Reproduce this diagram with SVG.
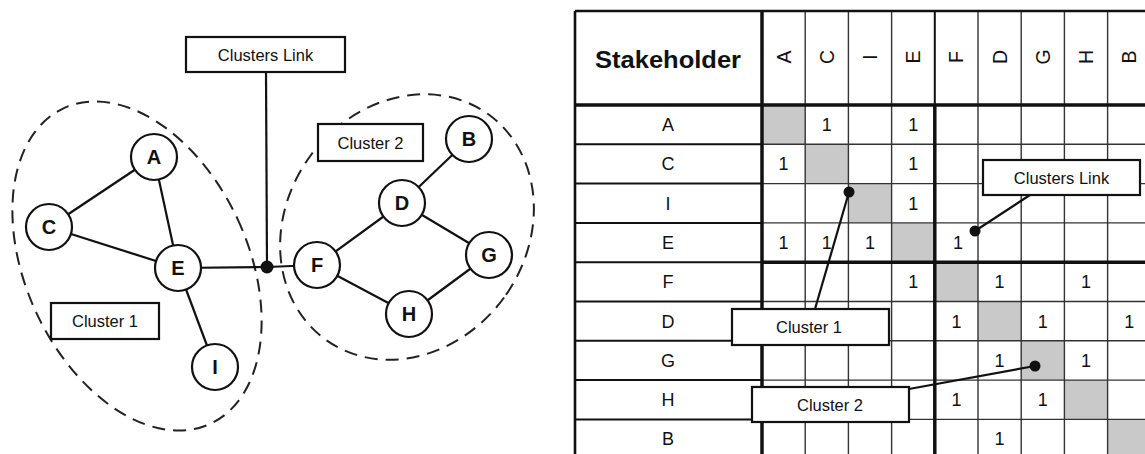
<svg xmlns="http://www.w3.org/2000/svg" width="1145" height="454" viewBox="0 0 1145 454">
  <style>
    .edge { stroke: #111; stroke-width: 2.2; fill: none; }
    .node circle { fill: #fff; stroke: #111; stroke-width: 2.2; }
    .node text { font-family: "Liberation Sans", Arial, sans-serif; font-weight: bold; font-size: 20px; fill: #111; text-anchor: middle; }
    .hull { fill: none; stroke: #222; stroke-width: 2; stroke-dasharray: 13 8; }
    .box rect { fill: #fff; stroke: #111; stroke-width: 2.2; }
    .box text { font-family: "Liberation Sans", Arial, sans-serif; font-size: 16.5px; fill: #111; text-anchor: middle; }
    .dot { fill: #111; }
    .cell { font-family: "Liberation Sans", Arial, sans-serif; font-size: 18px; fill: #111; text-anchor: middle; }
    .colhead { font-family: "Liberation Sans", Arial, sans-serif; font-size: 19.5px; fill: #111; text-anchor: middle; }
    .diag { fill: #c9c9c9; }
    .grid { stroke: #333; stroke-width: 1.4; }
    .rowline { stroke: #111; stroke-width: 2; }
    .thick { stroke: #111; stroke-width: 3.5; }
  </style>

  <!-- ===================== Network graph ===================== -->
  <g id="cluster-hulls">
    <ellipse class="hull" cx="137" cy="266" rx="111" ry="174" transform="rotate(-25 137 266)"/>
    <ellipse class="hull" cx="407" cy="227" rx="120" ry="139" transform="rotate(36 407 227)"/>
  </g>

  <g id="connectors">
    <line class="edge" x1="49" y1="227" x2="154" y2="157"/>
    <line class="edge" x1="154" y1="157" x2="178" y2="268"/>
    <line class="edge" x1="49" y1="227" x2="178" y2="268"/>
    <line class="edge" x1="178" y1="268" x2="215" y2="367"/>
    <line class="edge" x1="178" y1="268" x2="267" y2="267"/>
    <line class="edge" x1="267" y1="267" x2="317" y2="265"/>
    <line class="edge" x1="317" y1="265" x2="402" y2="203"/>
    <line class="edge" x1="317" y1="265" x2="409" y2="314"/>
    <line class="edge" x1="402" y1="203" x2="469" y2="139"/>
    <line class="edge" x1="402" y1="203" x2="489" y2="255"/>
    <line class="edge" x1="409" y1="314" x2="489" y2="255"/>
    <line class="edge" x1="266" y1="72" x2="267" y2="267"/>
    <circle class="dot" cx="267" cy="267" r="6.5"/>
  </g>

  <g id="node-A" class="node"><circle cx="154" cy="157" r="23"/><text x="154" y="164">A</text></g>
  <g id="node-C" class="node"><circle cx="49" cy="227" r="23"/><text x="49" y="234">C</text></g>
  <g id="node-E" class="node"><circle cx="178" cy="268" r="23"/><text x="178" y="275">E</text></g>
  <g id="node-I" class="node"><circle cx="215" cy="367" r="23"/><text x="215" y="374">I</text></g>
  <g id="node-F" class="node"><circle cx="317" cy="265" r="23"/><text x="317" y="272">F</text></g>
  <g id="node-D" class="node"><circle cx="402" cy="203" r="23"/><text x="402" y="210">D</text></g>
  <g id="node-B" class="node"><circle cx="469" cy="139" r="23"/><text x="469" y="146">B</text></g>
  <g id="node-G" class="node"><circle cx="489" cy="255" r="23"/><text x="489" y="262">G</text></g>
  <g id="node-H" class="node"><circle cx="409" cy="314" r="23"/><text x="409" y="321">H</text></g>

  <g id="label-clusters-link" class="box"><rect x="186" y="37" width="159" height="35"/><text x="265.5" y="60.5">Clusters Link</text></g>
  <g id="label-cluster-1" class="box"><rect x="51" y="303" width="108" height="36"/><text x="105" y="327">Cluster 1</text></g>
  <g id="label-cluster-2" class="box"><rect x="318" y="124" width="105" height="37"/><text x="370.5" y="148.5">Cluster 2</text></g>

  <!-- ===================== Adjacency matrix ===================== -->
  <g id="matrix">
    <!-- diagonal cells -->
    <rect class="diag" x="762" y="105" width="43.2" height="39.3"/>
    <rect class="diag" x="805.2" y="144.3" width="43.2" height="39.3"/>
    <rect class="diag" x="848.4" y="183.6" width="43.2" height="39.3"/>
    <rect class="diag" x="891.6" y="222.9" width="43.2" height="39.3"/>
    <rect class="diag" x="934.8" y="262.2" width="43.2" height="39.3"/>
    <rect class="diag" x="978" y="301.5" width="43.2" height="39.3"/>
    <rect class="diag" x="1021.2" y="340.8" width="43.2" height="39.3"/>
    <rect class="diag" x="1064.4" y="380.1" width="43.2" height="39.3"/>
    <rect class="diag" x="1107.6" y="419.4" width="43.2" height="39.3"/>

    <!-- thin grid inside matrix -->
    <g class="grid">
      <line x1="805.2" y1="11" x2="805.2" y2="454"/>
      <line x1="848.4" y1="11" x2="848.4" y2="454"/>
      <line x1="891.6" y1="11" x2="891.6" y2="454"/>
      <line x1="978" y1="11" x2="978" y2="454"/>
      <line x1="1021.2" y1="11" x2="1021.2" y2="454"/>
      <line x1="1064.4" y1="11" x2="1064.4" y2="454"/>
      <line x1="1107.6" y1="11" x2="1107.6" y2="454"/>
      <line x1="762" y1="144.3" x2="1145" y2="144.3"/>
      <line x1="762" y1="183.6" x2="1145" y2="183.6"/>
      <line x1="762" y1="222.9" x2="1145" y2="222.9"/>
      <line x1="762" y1="301.5" x2="1145" y2="301.5"/>
      <line x1="762" y1="340.8" x2="1145" y2="340.8"/>
      <line x1="762" y1="380.1" x2="1145" y2="380.1"/>
      <line x1="762" y1="419.4" x2="1145" y2="419.4"/>
    </g>
    <!-- header column separator and label-column row lines -->
    <g class="rowline">
      <line x1="934.8" y1="11" x2="934.8" y2="105"/>
      <line x1="575" y1="144.3" x2="762" y2="144.3"/>
      <line x1="575" y1="183.6" x2="762" y2="183.6"/>
      <line x1="575" y1="222.9" x2="762" y2="222.9"/>
      <line x1="575" y1="262.2" x2="762" y2="262.2"/>
      <line x1="575" y1="301.5" x2="762" y2="301.5"/>
      <line x1="575" y1="340.8" x2="762" y2="340.8"/>
      <line x1="575" y1="380.1" x2="762" y2="380.1"/>
      <line x1="575" y1="419.4" x2="762" y2="419.4"/>
    </g>
    <!-- outer frame and cluster borders -->
    <g class="thick">
      <line x1="575" y1="11" x2="1145" y2="11" stroke-width="2.6"/>
      <line x1="575" y1="11" x2="575" y2="454" stroke-width="2.6"/>
      <line x1="762" y1="11" x2="762" y2="454"/>
      <line x1="575" y1="105" x2="1145" y2="105"/>
      <line x1="762" y1="262.2" x2="1145" y2="262.2"/>
      <line x1="934.8" y1="105" x2="934.8" y2="454"/>
    </g>

    <!-- header -->
    <text x="668" y="68" font-family="Liberation Sans, Arial, sans-serif" font-weight="bold" font-size="23" text-anchor="middle" textLength="146" lengthAdjust="spacingAndGlyphs" fill="#111">Stakeholder</text>
    <g class="colhead">
      <text transform="translate(783.6 57) rotate(-90)" y="7">A</text>
      <text transform="translate(826.8 57) rotate(-90)" y="7">C</text>
      <text transform="translate(870 57) rotate(-90)" y="7">I</text>
      <text transform="translate(913.2 57) rotate(-90)" y="7">E</text>
      <text transform="translate(956.4 57) rotate(-90)" y="7">F</text>
      <text transform="translate(999.6 57) rotate(-90)" y="7">D</text>
      <text transform="translate(1042.8 57) rotate(-90)" y="7">G</text>
      <text transform="translate(1086 57) rotate(-90)" y="7">H</text>
      <text transform="translate(1129.2 57) rotate(-90)" y="7">B</text>
    </g>

    <!-- row labels -->
    <g class="cell">
      <text x="668" y="131">A</text>
      <text x="668" y="170.3">C</text>
      <text x="668" y="209.6">I</text>
      <text x="668" y="248.9">E</text>
      <text x="668" y="288.2">F</text>
      <text x="668" y="327.5">D</text>
      <text x="668" y="366.8">G</text>
      <text x="668" y="406.1">H</text>
      <text x="668" y="445.4">B</text>
    </g>

    <!-- entries -->
    <g class="cell">
      <text x="826.8" y="131">1</text><text x="913.2" y="131">1</text>
      <text x="783.6" y="170.3">1</text><text x="913.2" y="170.3">1</text>
      <text x="913.2" y="209.6">1</text>
      <text x="783.6" y="248.9">1</text><text x="826.8" y="248.9">1</text><text x="870" y="248.9">1</text><text x="958" y="248.9">1</text>
      <text x="913.2" y="288.2">1</text><text x="999.6" y="288.2">1</text><text x="1086" y="288.2">1</text>
      <text x="956.4" y="327.5">1</text><text x="1042.8" y="327.5">1</text><text x="1129.2" y="327.5">1</text>
      <text x="999.6" y="366.8">1</text><text x="1086" y="366.8">1</text>
      <text x="956.4" y="406.1">1</text><text x="1042.8" y="406.1">1</text>
      <text x="999.6" y="445.4">1</text>
    </g>
  </g>

  <!-- matrix callouts -->
  <g id="callout-connectors">
    <line class="edge" x1="1030" y1="195" x2="975" y2="231"/>
    <circle class="dot" cx="975" cy="231" r="5.5"/>
    <line class="edge" x1="815" y1="309" x2="849" y2="192"/>
    <circle class="dot" cx="849" cy="192" r="5.5"/>
    <line class="edge" x1="909" y1="389" x2="1035" y2="366"/>
    <circle class="dot" cx="1035" cy="366" r="5.5"/>
  </g>
  <g id="matrix-clusters-link" class="box"><rect x="983" y="160" width="157" height="35"/><text x="1061.5" y="183.5">Clusters Link</text></g>
  <g id="matrix-cluster-1" class="box"><rect x="732" y="309" width="157" height="36"/><text x="809" y="333">Cluster 1</text></g>
  <g id="matrix-cluster-2" class="box"><rect x="752" y="387" width="157" height="35"/><text x="830" y="410.5">Cluster 2</text></g>
</svg>
